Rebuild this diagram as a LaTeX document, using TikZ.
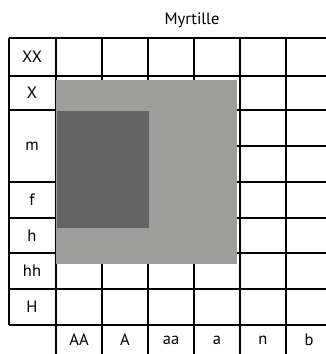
\documentclass[tikz,border=0pt]{standalone}
\usepackage{fontspec}
\setmainfont{PT Sans}
\definecolor{lightg}{RGB}{157,157,156}
\definecolor{darkg}{RGB}{100,100,100}
\begin{document}
\begin{tikzpicture}[x=1pt,y=-1pt,
  gridline/.style={line width=2pt,black},
  lbl/.style={font=\fontsize{16.5}{19}\selectfont,inner sep=0pt,anchor=center}]
\useasboundingbox (0,0) rectangle (325,354);
% horizontal lines
\foreach \y in {38,76,110,182,218,253,289,325}
  \draw[gridline] (9,\y) -- (332,\y);
\draw[gridline] (56,146) -- (332,146);
% vertical lines
\draw[gridline] (9,38) -- (9,325);
\foreach \x in {56,102,148,194,240,286,332}
  \draw[gridline] (\x,38) -- (\x,354);
% shaded areas
\fill[lightg] (56,80) rectangle (237,264);
\fill[darkg] (57,111) rectangle (149,228);
% title
\node[lbl] (title) at (192,20) {Myrtille};
% row labels
\node[lbl] (rXX) at (32,57) {XX};
\node[lbl] (rX) at (32,93) {X};
\node[lbl] (rm) at (32,146) {m};
\node[lbl] (rf) at (32,200) {f};
\node[lbl] (rh) at (32,235.5) {h};
\node[lbl] (rhh) at (32,271) {hh};
\node[lbl] (rH) at (32,307) {H};
% column labels
\node[lbl] (cAA) at (79,340) {AA};
\node[lbl] (cA) at (125,340) {A};
\node[lbl] (caa) at (171,340) {aa};
\node[lbl] (ca) at (217,340) {a};
\node[lbl] (cn) at (263,340) {n};
\node[lbl] (cb) at (309,340) {b};
\end{tikzpicture}
\end{document}
